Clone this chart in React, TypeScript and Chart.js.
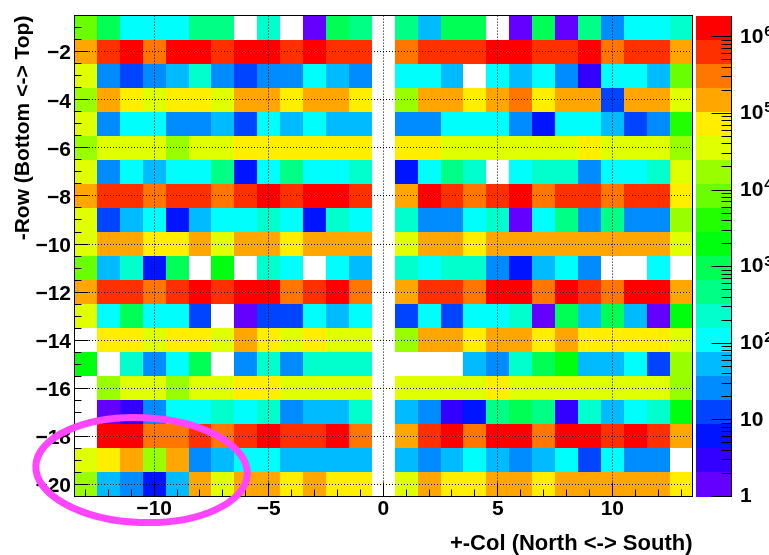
import { useEffect, useRef } from 'react';
import { Chart, registerables } from 'chart.js';

Chart.register(...registerables);

// ---- data -----------------------------------------------------------------
const COLUMNS = [-13, -12, -11, -10, -9, -8, -7, -6, -5, -4, -3, -2, -1, 0, 1, 2, 3, 4, 5, 6, 7, 8, 9, 10, 11, 12, 13];
const ROW_NUMBERS = [-1, -2, -3, -4, -5, -6, -7, -8, -9, -10, -11, -12, -13, -14, -15, -16, -17, -18, -19, -20];

// counts per cell, columns -13 .. 13 (0 = empty bin)
const ROW_M1 = [8400, 960, 110, 110, 110, 460, 460, 0, 230, 0, 1.4, 960, 460, 0, 460, 53, 960, 960, 0, 1.4, 960, 1.4, 460, 26, 110, 110, 230];
const ROW_M2 = [1.5e5, 6.4e5, 1.3e6, 3.1e5, 1.3e6, 1.3e6, 6.4e5, 1.3e6, 1.3e6, 6.4e5, 1.3e6, 6.4e5, 6.4e5, 0, 3.1e5, 6.4e5, 6.4e5, 6.4e5, 1.3e6, 1.3e6, 6.4e5, 6.4e5, 1.3e6, 3.1e5, 6.4e5, 6.4e5, 1.5e5];
const ROW_M3 = [3.5e4, 26, 12, 26, 53, 230, 26, 12, 26, 26, 110, 53, 26, 0, 110, 110, 53, 0, 110, 53, 110, 26, 3, 110, 110, 53, 8400];
const ROW_M4 = [1.7e4, 1.5e5, 7.3e4, 3.5e4, 7.3e4, 7.3e4, 3.5e4, 1.5e5, 1.5e5, 7.3e4, 1.5e5, 1.5e5, 7.3e4, 0, 1.7e4, 1.5e5, 1.5e5, 7.3e4, 1.5e5, 3.1e5, 7.3e4, 1.5e5, 1.5e5, 12, 1.5e5, 1.5e5, 3.5e4];
const ROW_M5 = [3.5e4, 26, 110, 110, 26, 26, 53, 12, 110, 53, 110, 53, 53, 0, 26, 26, 110, 110, 110, 26, 6, 110, 110, 53, 12, 26, 4100];
const ROW_M6 = [1.7e4, 3.5e4, 3.5e4, 3.5e4, 1.7e4, 3.5e4, 3.5e4, 7.3e4, 7.3e4, 7.3e4, 7.3e4, 7.3e4, 7.3e4, 0, 7.3e4, 7.3e4, 3.5e4, 3.5e4, 3.5e4, 3.5e4, 3.5e4, 3.5e4, 7.3e4, 3.5e4, 3.5e4, 3.5e4, 1.7e4];
const ROW_M7 = [3.5e4, 26, 110, 53, 110, 110, 460, 6, 110, 460, 110, 110, 230, 0, 6, 110, 460, 230, 0, 110, 230, 230, 26, 110, 110, 230, 3.5e4];
const ROW_M8 = [1.5e5, 6.4e5, 6.4e5, 3.1e5, 6.4e5, 6.4e5, 3.1e5, 6.4e5, 1.3e6, 6.4e5, 1.3e6, 1.3e6, 6.4e5, 0, 1.5e5, 1.3e6, 6.4e5, 3.1e5, 6.4e5, 1.3e6, 3.1e5, 6.4e5, 6.4e5, 3.1e5, 6.4e5, 6.4e5, 7.3e4];
const ROW_M9 = [3.5e4, 12, 53, 110, 6, 53, 110, 110, 230, 110, 6, 230, 110, 0, 230, 26, 26, 110, 230, 1.4, 110, 460, 26, 460, 26, 26, 1.7e4];
const ROW_M10 = [3.5e4, 1.5e5, 1.5e5, 7.3e4, 7.3e4, 1.5e5, 3.5e4, 1.5e5, 1.5e5, 7.3e4, 1.5e5, 1.5e5, 1.5e5, 0, 3.5e4, 1.5e5, 1.5e5, 7.3e4, 1.5e5, 1.5e5, 1.5e5, 1.5e5, 1.5e5, 1.5e5, 1.5e5, 1.5e5, 3.5e4];
const ROW_M11 = [8400, 53, 230, 6, 960, 0, 2000, 0, 230, 110, 0, 110, 53, 0, 230, 110, 230, 230, 26, 6, 53, 110, 26, 0, 0, 110, 0];
const ROW_M12 = [1.5e5, 6.4e5, 6.4e5, 3.1e5, 6.4e5, 1.3e6, 6.4e5, 1.3e6, 1.3e6, 3.1e5, 6.4e5, 1.3e6, 3.1e5, 0, 1.5e5, 6.4e5, 6.4e5, 3.1e5, 1.3e6, 1.3e6, 3.1e5, 1.3e6, 6.4e5, 3.1e5, 1.3e6, 1.3e6, 1.5e5];
const ROW_M13 = [3.5e4, 110, 960, 110, 110, 12, 0, 1.4, 12, 12, 110, 53, 110, 0, 12, 110, 12, 110, 110, 230, 1.4, 960, 53, 960, 53, 1.4, 2000];
const ROW_M14 = [0, 7.3e4, 7.3e4, 3.5e4, 7.3e4, 7.3e4, 3.5e4, 1.5e5, 7.3e4, 3.5e4, 7.3e4, 3.5e4, 3.5e4, 0, 1.7e4, 1.5e5, 1.5e5, 7.3e4, 1.5e5, 1.5e5, 7.3e4, 1.5e5, 7.3e4, 7.3e4, 7.3e4, 7.3e4, 3.5e4];
const ROW_M15 = [2000, 0, 230, 26, 110, 960, 0, 26, 230, 26, 230, 230, 230, 0, 0, 0, 0, 53, 26, 230, 960, 2000, 53, 53, 110, 12, 1.7e4];
const ROW_M16 = [0, 1.7e4, 3.5e4, 3.5e4, 1.7e4, 3.5e4, 3.5e4, 7.3e4, 7.3e4, 3.5e4, 3.5e4, 3.5e4, 3.5e4, 0, 3.5e4, 3.5e4, 3.5e4, 3.5e4, 7.3e4, 3.5e4, 3.5e4, 3.5e4, 3.5e4, 3.5e4, 3.5e4, 3.5e4, 1.7e4];
const ROW_M17 = [0, 1.4, 3, 26, 110, 110, 230, 110, 230, 26, 53, 53, 230, 0, 53, 26, 3, 6, 460, 960, 460, 3, 230, 53, 110, 230, 2000];
const ROW_M18 = [0, 1.3e6, 1.3e6, 3.1e5, 3.1e5, 6.4e5, 3.1e5, 6.4e5, 1.3e6, 6.4e5, 6.4e5, 1.3e6, 3.1e5, 0, 1.5e5, 6.4e5, 1.3e6, 3.1e5, 1.3e6, 1.3e6, 3.1e5, 1.3e6, 1.3e6, 6.4e5, 1.3e6, 6.4e5, 1.5e5];
const ROW_M19 = [3.5e4, 7.3e4, 1.5e5, 1.7e4, 1.5e5, 26, 53, 110, 110, 53, 53, 53, 53, 0, 53, 26, 53, 110, 53, 26, 53, 110, 12, 110, 26, 26, 0];
const ROW_M20 = [1.7e4, 53, 26, 6, 53, 1.5e5, 3.5e4, 1.5e5, 1.5e5, 7.3e4, 1.5e5, 7.3e4, 7.3e4, 0, 3.5e4, 1.5e5, 7.3e4, 7.3e4, 1.5e5, 1.5e5, 7.3e4, 1.5e5, 1.5e5, 1.5e5, 1.5e5, 1.5e5, 7.3e4];

const CELL_ROWS = [ROW_M1, ROW_M2, ROW_M3, ROW_M4, ROW_M5, ROW_M6, ROW_M7, ROW_M8, ROW_M9, ROW_M10,
  ROW_M11, ROW_M12, ROW_M13, ROW_M14, ROW_M15, ROW_M16, ROW_M17, ROW_M18, ROW_M19, ROW_M20];

const X_MAJOR_TICKS = [-10, -5, 0, 5, 10];
const Y_MAJOR_TICKS = [-2, -4, -6, -8, -10, -12, -14, -16, -18, -20];
const Z_DECADES = [1, 10, 100, 1000, 10000, 100000, 1000000];
const Z_MIN = 1;
const Z_MAX = 1.89e6;
const N_CONTOURS = 20;
const X_TITLE = '+-Col (North <-> South)';
const Y_TITLE = '-Row (Bottom <-> Top)';
// highlighted region (data units): centre and half-axes
const HIGHLIGHT_X = -10.55;
const HIGHLIGHT_Y = -19.4;
const HIGHLIGHT_RX = 4.62;
const HIGHLIGHT_RY = 2.18;

// ---- styling helpers ------------------------------------------------------
const FONT = "'Liberation Sans', Arial, Helvetica, sans-serif";

function hslColor(h: number): string {
  const a = 0.5;
  const f = (n: number) => {
    const k = (n + h / 30) % 12;
    return 0.5 - a * Math.max(-1, Math.min(k - 3, 9 - k, 1));
  };
  return `rgb(${Math.round(255 * f(0))},${Math.round(255 * f(8))},${Math.round(255 * f(4))})`;
}

// ROOT "pretty palette" (50 colours violet -> red), sampled for 20 contours
const BAND_COLORS = Array.from({ length: N_CONTOURS }, (_, b) => {
  const p = Math.floor(((b + 0.99) * 50) / N_CONTOURS);
  return hslColor(280 - (p + 1) * 5.6);
});

function bandOf(v: number): number {
  const lmax = Math.log10(Z_MAX);
  const b = Math.floor(0.01 + (Math.log10(v) / lmax) * N_CONTOURS);
  return Math.max(0, Math.min(N_CONTOURS - 1, b));
}

const fmt = (v: number | string) => {
  const n = Number(v);
  return n < 0 ? '\u2212' + Math.abs(n) : String(n);
};

const heatmapPlugin = {
  id: 'heatmapCells',
  beforeDraw(chart: any) {
    const ctx = chart.ctx;
    const xs = chart.scales.x;
    const ys = chart.scales.y;
    ctx.save();
    for (const d of chart.data.datasets[0].data as any[]) {
      if (!(d.v > 0)) continue;
      const x0 = Math.round(xs.getPixelForValue(d.x - 0.5));
      const x1 = Math.round(xs.getPixelForValue(d.x + 0.5));
      const y0 = Math.round(ys.getPixelForValue(d.y + 0.5));
      const y1 = Math.round(ys.getPixelForValue(d.y - 0.5));
      ctx.fillStyle = BAND_COLORS[bandOf(d.v)];
      ctx.fillRect(x0, y0, x1 - x0, y1 - y0);
    }
    ctx.restore();
  },
  afterDraw(chart: any) {
    const ctx = chart.ctx;
    const ca = chart.chartArea;
    const xs = chart.scales.x;
    const ys = chart.scales.y;
    const zs = chart.scales.z;
    ctx.save();
    ctx.strokeStyle = '#000';
    ctx.lineWidth = 1;

    // inner ticks
    const bottom = Math.floor(ca.bottom) + 0.5;
    const left = Math.floor(ca.left) + 0.5;
    ctx.beginPath();
    for (let v = -13; v <= 13; v++) {
      const px = Math.floor(xs.getPixelForValue(v)) + 0.5;
      const len = v % 5 === 0 ? 14 : 7;
      ctx.moveTo(px, bottom);
      ctx.lineTo(px, bottom - len);
    }
    for (let k = -40; k <= -2; k++) {
      const v = k / 2;
      const py = Math.floor(ys.getPixelForValue(v)) + 0.5;
      const len = k % 4 === 0 ? 14 : 7;
      ctx.moveTo(left, py);
      ctx.lineTo(left + len, py);
    }
    ctx.stroke();

    // frame
    const right = Math.floor(ca.right) + 0.5;
    const top = Math.floor(ca.top) + 0.5;
    ctx.strokeRect(left, top, right - left, bottom - top);

    // colour palette
    const px0 = Math.round(ca.right + 3.5);
    const px1 = Math.round(ca.right + 39.5);
    const lmax = Math.log10(Z_MAX);
    for (let b = 0; b < N_CONTOURS; b++) {
      const yt = Math.round(zs.getPixelForValue(Math.pow(10, ((b + 1) * lmax) / N_CONTOURS)));
      const yb = Math.round(zs.getPixelForValue(Math.pow(10, (b * lmax) / N_CONTOURS)));
      ctx.fillStyle = BAND_COLORS[b];
      ctx.fillRect(px0, yt, px1 - px0, yb - yt);
    }
    const ax = px1 - 0.5;
    ctx.beginPath();
    ctx.moveTo(ax, Math.round(zs.top));
    ctx.lineTo(ax, Math.round(zs.bottom));
    for (const dec of Z_DECADES) {
      const py = Math.floor(zs.getPixelForValue(dec)) + 0.5;
      ctx.moveTo(ax - 20, py);
      ctx.lineTo(ax, py);
      for (let m = 2; m <= 9; m++) {
        const v = dec * m;
        if (v >= Z_MAX) break;
        const pm = Math.floor(zs.getPixelForValue(v)) + 0.5;
        ctx.moveTo(ax - 10, pm);
        ctx.lineTo(ax, pm);
      }
    }
    ctx.stroke();

    // palette labels
    ctx.fillStyle = '#000';
    ctx.textAlign = 'left';
    const lx = px1 + 8;
    for (const dec of Z_DECADES) {
      const py = zs.getPixelForValue(dec);
      const exp = Math.round(Math.log10(dec));
      ctx.font = `bold 21px ${FONT}`;
      ctx.textBaseline = 'middle';
      const base = exp === 0 ? '1' : '10';
      ctx.fillText(base, lx, py);
      if (exp >= 2) {
        const w = ctx.measureText(base).width;
        ctx.font = `bold 15px ${FONT}`;
        ctx.textBaseline = 'alphabetic';
        ctx.fillText(String(exp), lx + w + 1, py - 1);
      }
    }

    // highlight ellipse
    const cx = xs.getPixelForValue(HIGHLIGHT_X);
    const cy = ys.getPixelForValue(HIGHLIGHT_Y);
    const rx = Math.abs(xs.getPixelForValue(HIGHLIGHT_X + HIGHLIGHT_RX) - cx);
    const ry = Math.abs(ys.getPixelForValue(HIGHLIGHT_Y + HIGHLIGHT_RY) - cy);
    ctx.beginPath();
    ctx.ellipse(cx, cy, rx, ry, 0.04, 0, Math.PI * 2);
    ctx.strokeStyle = '#ff45ff';
    ctx.lineWidth = 7;
    ctx.stroke();
    ctx.restore();
  },
};

export default function App() {
  const ref = useRef<HTMLCanvasElement>(null);
  useEffect(() => {
    const canvas = ref.current;
    if (!canvas) return;
    const points: { x: number; y: number; v: number }[] = [];
    ROW_NUMBERS.forEach((row, ri) => {
      COLUMNS.forEach((col, ci) => {
        points.push({ x: col, y: row, v: CELL_ROWS[ri][ci] });
      });
    });
    const tickFont = { family: FONT, size: 21, weight: 'bold' as const, lineHeight: 1.2 };
    const chart = new Chart(canvas, {
      type: 'scatter',
      data: { datasets: [{ data: points as any, pointRadius: 0, pointHoverRadius: 0 }] },
      options: {
        responsive: false,
        animation: false,
        devicePixelRatio: 1,
        events: [],
        layout: { padding: { top: 12.5, left: 0, right: 0, bottom: 0 } },
        plugins: { legend: { display: false }, tooltip: { enabled: false } },
        scales: {
          x: {
            type: 'linear',
            position: 'bottom',
            min: -13.5,
            max: 13.5,
            afterBuildTicks: (s: any) => { s.ticks = X_MAJOR_TICKS.map((value) => ({ value })); },
            afterFit: (s: any) => { s.height = 58.5; },
            grid: { color: '#000', lineWidth: 1, drawTicks: false },
            border: { display: false, dash: [1, 2] },
            ticks: { autoSkip: false, maxRotation: 0, padding: 0, color: '#000', font: tickFont, callback: fmt },
            title: {
              display: true, text: X_TITLE, align: 'end', color: '#000', padding: 0,
              font: { family: FONT, size: 22, weight: 'bold', lineHeight: 1 },
            },
          },
          y: {
            type: 'linear',
            position: 'left',
            min: -20.5,
            max: -0.5,
            afterBuildTicks: (s: any) => { s.ticks = Y_MAJOR_TICKS.map((value) => ({ value })); },
            afterFit: (s: any) => { s.width = 74; },
            grid: { color: '#000', lineWidth: 1, drawTicks: false },
            border: { display: false, dash: [1, 2] },
            ticks: { autoSkip: false, padding: 3, labelOffset: 2, color: '#000', font: tickFont, callback: fmt },
            title: {
              display: true, text: Y_TITLE, align: 'end', color: '#000', padding: { top: 12.5, bottom: 0 },
              font: { family: FONT, size: 21, weight: 'bold', lineHeight: 1 },
            },
          },
          z: {
            type: 'logarithmic',
            axis: 'y',
            position: 'right',
            min: Z_MIN,
            max: Z_MAX,
            afterFit: (s: any) => { s.width = 76.5; },
            grid: { display: false },
            border: { display: false },
            ticks: { display: false },
          },
        } as any,
      },
      plugins: [heatmapPlugin],
    });
    return () => chart.destroy();
  }, []);
  return (
    <div style={{ position: 'absolute', left: 0, top: 0, width: 769, height: 555, background: '#fff' }}>
      <canvas ref={ref} width={769} height={555} style={{ display: 'block' }} />
    </div>
  );
}
